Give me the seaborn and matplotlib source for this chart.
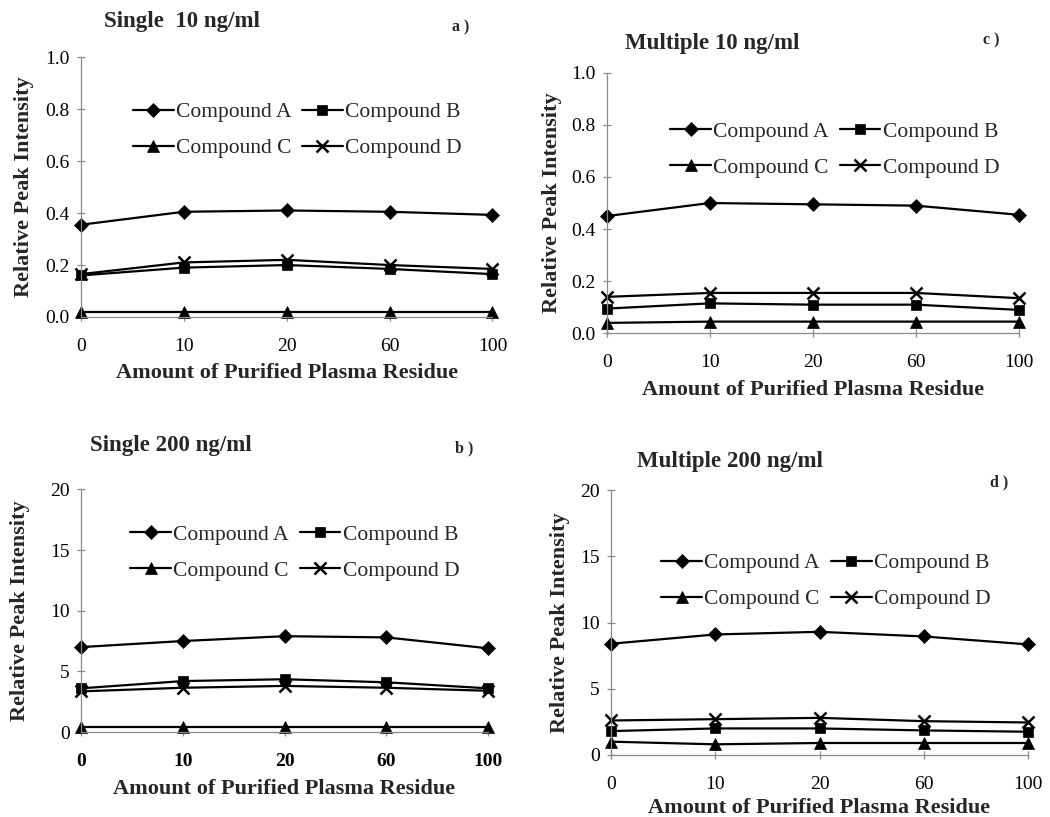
import numpy as np
import pandas as pd
import matplotlib
matplotlib.use("Agg")
import matplotlib.pyplot as plt
import seaborn as sns

# ---------------- data ----------------
residue_labels = ["0", "10", "20", "60", "100"]
compounds = ["Compound A", "Compound B", "Compound C", "Compound D"]

single10_A = [0.355, 0.405, 0.41, 0.405, 0.393]
single10_B = [0.16, 0.19, 0.20, 0.185, 0.165]
single10_C = [0.02, 0.02, 0.02, 0.02, 0.02]
single10_D = [0.165, 0.21, 0.22, 0.20, 0.185]

multi10_A = [0.45, 0.50, 0.495, 0.49, 0.455]
multi10_B = [0.095, 0.115, 0.11, 0.11, 0.09]
multi10_C = [0.04, 0.045, 0.045, 0.045, 0.045]
multi10_D = [0.14, 0.155, 0.155, 0.155, 0.135]

single200_A = [7.0, 7.5, 7.9, 7.8, 6.9]
single200_B = [3.6, 4.2, 4.35, 4.1, 3.6]
single200_C = [0.45, 0.45, 0.45, 0.45, 0.45]
single200_D = [3.35, 3.65, 3.8, 3.65, 3.4]

multi200_A = [8.4, 9.1, 9.3, 8.95, 8.35]
multi200_B = [1.8, 2.0, 2.0, 1.85, 1.75]
multi200_C = [1.0, 0.8, 0.9, 0.9, 0.9]
multi200_D = [2.6, 2.7, 2.8, 2.55, 2.45]

titles = ["Single  10 ng/ml", "Multiple 10 ng/ml", "Single 200 ng/ml", "Multiple 200 ng/ml"]
panel_tags = ["a )", "c )", "b )", "d )"]
x_title = "Amount of Purified Plasma Residue"
y_title = "Relative Peak Intensity"

# ---------------- style ----------------
sns.set_style("ticks")
plt.rcParams["font.family"] = ["Liberation Serif", "DejaVu Serif"]

fig = plt.figure(figsize=(10.5, 8.17), dpi=100)

panels = [
    dict(vals=[single10_A, single10_B, single10_C, single10_D], rect=[0.077, 0.612, 0.392, 0.318],
         ylim=(0, 1.0), yticks=[0, 0.2, 0.4, 0.6, 0.8, 1.0], yfmt="{:.1f}", bold_x=False,
         leg=(0.105, 0.86), title_xy=(104, 22), tag_xy=(452, 27), xlab_y=373, ylab_x=24),
    dict(vals=[multi10_A, multi10_B, multi10_C, multi10_D], rect=[0.578, 0.592, 0.392, 0.319],
         ylim=(0, 1.0), yticks=[0, 0.2, 0.4, 0.6, 0.8, 1.0], yfmt="{:.1f}", bold_x=False,
         leg=(0.133, 0.845), title_xy=(625, 43), tag_xy=(983, 40), xlab_y=390, ylab_x=552),
    dict(vals=[single200_A, single200_B, single200_C, single200_D], rect=[0.077, 0.104, 0.388, 0.297],
         ylim=(0, 20), yticks=[0, 5, 10, 15, 20], yfmt="{:.0f}", bold_x=True,
         leg=(0.10, 0.89), title_xy=(90, 445), tag_xy=(455, 448), xlab_y=789, ylab_x=20),
    dict(vals=[multi200_A, multi200_B, multi200_C, multi200_D], rect=[0.582, 0.076, 0.397, 0.324],
         ylim=(0, 20), yticks=[0, 5, 10, 15, 20], yfmt="{:.0f}", bold_x=False,
         leg=(0.10, 0.795), title_xy=(637, 462), tag_xy=(990, 482), xlab_y=808, ylab_x=560),
]

markers = {"Compound A": "D", "Compound B": "s", "Compound C": "^", "Compound D": "x"}
msizes = {"Compound A": 7, "Compound B": 7, "Compound C": 9, "Compound D": 9}

W, H = 1050, 817
for p, title, tag in zip(panels, titles, panel_tags):
    ax = fig.add_axes(p["rect"])
    rows = []
    for comp, v in zip(compounds, p["vals"]):
        for i, val in enumerate(v):
            rows.append(dict(pos=i, value=val, compound=comp))
    df = pd.DataFrame(rows)
    for comp in compounds:
        sub = df[df.compound == comp]
        sns.lineplot(data=sub, x="pos", y="value", ax=ax, color="black", linewidth=1.6,
                     marker=markers[comp], markersize=msizes[comp],
                     markeredgewidth=1.8 if comp == "Compound D" else 0.5,
                     markeredgecolor="black", markerfacecolor="black", label=comp)
    for ln in ax.lines:
        ln.set_clip_on(False)
    ax.set_xlim(0, len(residue_labels) - 1)
    ax.set_ylim(*p["ylim"])
    ax.set_xticks(range(len(residue_labels)))
    ax.set_xticklabels(residue_labels, fontsize=14, fontweight="bold" if p["bold_x"] else "normal")
    ax.set_yticks(p["yticks"])
    ax.set_yticklabels([p["yfmt"].format(t) for t in p["yticks"]], fontsize=14)
    ax.set_xlabel("")
    ax.set_ylabel("")
    for s in ["top", "right"]:
        ax.spines[s].set_visible(False)
    for s in ["left", "bottom"]:
        ax.spines[s].set_color("#8a8a8a")
        ax.spines[s].set_linewidth(0.9)
    ax.tick_params(axis="both", colors="#8a8a8a", labelcolor="black", length=6, width=0.9, direction="inout")
    ax.tick_params(axis="x", pad=12)
    ax.tick_params(axis="y", pad=5)
    handles, labels = ax.get_legend_handles_labels()
    order = [0, 2, 1, 3]  # row-wise: A B / C D
    ax.legend([handles[i] for i in order], [labels[i] for i in order], ncol=2, frameon=False,
              loc="upper left", bbox_to_anchor=p["leg"],
              fontsize=15.5, handlelength=1.9, handletextpad=0.1, columnspacing=0.5, labelspacing=0.75,
              borderaxespad=0)
    # titles and labels
    fig.text(p["title_xy"][0] / W, 1 - p["title_xy"][1] / H, title, fontsize=16.5, fontweight="bold",
             ha="left", va="center")
    fig.text(p["tag_xy"][0] / W, 1 - p["tag_xy"][1] / H, tag, fontsize=11.5, fontweight="bold",
             ha="left", va="center")
    r = p["rect"]
    fig.text(r[0] + r[2] / 2, 1 - p["xlab_y"] / H, x_title, fontsize=16, fontweight="bold",
             ha="center", va="center")
    fig.text(p["ylab_x"] / W, r[1] + r[3] / 2, y_title, fontsize=16, fontweight="bold",
             ha="center", va="center", rotation=90)

fig.savefig("out.png", dpi=100)
